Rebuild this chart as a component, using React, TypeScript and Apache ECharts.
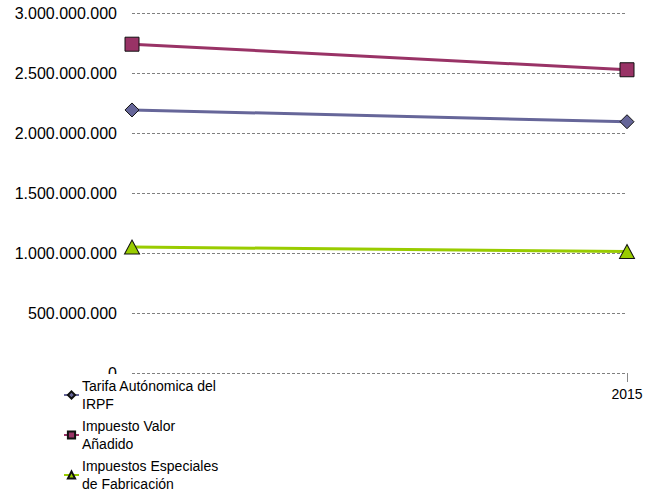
import React, { useEffect, useRef } from "react";
import * as echarts from "echarts";

const categories = ["2014", "2015"];
const seriesNames = [
  "Tarifa Autónomica del IRPF",
  "Impuesto Valor Añadido",
  "Impuestos Especiales de Fabricación",
];
const legendLabels = [
  "Tarifa Autónomica del\nIRPF",
  "Impuesto Valor\nAñadido",
  "Impuestos Especiales\nde Fabricación",
];
const irpfValues = [2192000000, 2094000000];
const ivaValues = [2740000000, 2527000000];
const iefValues = [1050000000, 1012000000];
const colors = ["#666699", "#993366", "#99CC00"];
const symbols = ["diamond", "rect", "triangle"];

function fmt(v: number): string {
  return String(Math.round(v)).replace(/\B(?=(\d{3})+(?!\d))/g, ".");
}

export default function App() {
  const ref = useRef<HTMLDivElement>(null);
  useEffect(() => {
    const chart = echarts.init(ref.current!, undefined, { renderer: "svg" });
    const data = [irpfValues, ivaValues, iefValues];
    chart.setOption({
      animation: false,
      backgroundColor: "#fff",
      textStyle: { fontFamily: "Liberation Sans, Arial, sans-serif" },
      grid: { left: 132, right: 23, top: 13, bottom: 123, containLabel: false },
      graphic: [
        {
          type: "rect",
          z: 3,
          shape: { x: 58, y: 374, width: 168, height: 122 },
          style: { fill: "#fff" },
        },
      ],
      legend: {
        orient: "vertical",
        left: 59,
        top: 366,
        height: 220,
        z: 10,
        padding: [2, 4, 2, 4],
        itemWidth: 15,
        itemHeight: 9,
        itemGap: -14,
        data: seriesNames,
        formatter: (name: string) => legendLabels[seriesNames.indexOf(name)],
        textStyle: {
          fontSize: 14,
          color: "#000",
          lineHeight: 18,
          padding: [18, 0, 0, -2],
          fontFamily: "Liberation Sans, Arial, sans-serif",
        },
      },
      xAxis: {
        type: "category",
        data: categories,
        boundaryGap: false,
        axisLine: { show: false },
        axisTick: { show: true, length: 9, lineStyle: { color: "#888" } },
        axisLabel: {
          color: "#000",
          fontSize: 14,
          margin: 14,
          interval: (index: number) => index === categories.length - 1,
        },
        splitLine: { show: false },
      },
      yAxis: {
        type: "value",
        min: 0,
        max: 3000000000,
        interval: 500000000,
        axisLine: { show: false },
        axisTick: { show: false },
        axisLabel: { color: "#000", fontSize: 16, margin: 15, formatter: (v: number) => fmt(v) },
        splitLine: { show: true, lineStyle: { color: "#808080", type: [3, 2], width: 1 } },
      },
      series: seriesNames.map((n, i) => ({
        name: n,
        type: "line",
        data: data[i],
        symbol: symbols[i],
        symbolSize: i === 2 ? [15, 14] : 14,
        lineStyle: { color: colors[i], width: 3 },
        itemStyle: { color: colors[i], borderColor: "#111", borderWidth: 1 },
        z: 3,
      })),
    });
    return () => chart.dispose();
  }, []);
  return (
    <div
      ref={ref}
      style={{ position: "fixed", left: 0, top: 0, width: 650, height: 496 }}
    />
  );
}
